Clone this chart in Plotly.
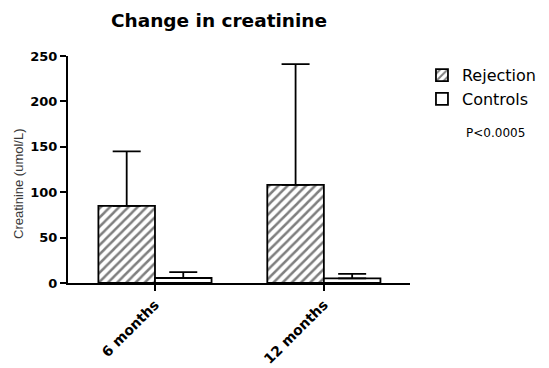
import plotly.graph_objects as go

categories = ["6 months", "12 months"]
rejection = [85, 108]
rejection_err = [60, 133]
controls = [5.5, 5]
controls_err = [6.5, 5]
y_ticks = [0, 50, 100, 150, 200, 250]

fig = go.Figure()
fig.add_trace(go.Bar(
    x=categories, y=rejection, name="Rejection",
    marker=dict(color="white", line=dict(color="black", width=1.8),
                pattern=dict(shape="/", fgcolor="black", bgcolor="white", size=6.5, solidity=0.38)),
    error_y=dict(type="data", array=rejection_err, arrayminus=[0, 0], symmetric=False,
                 color="black", thickness=1.8, width=14),
))
fig.add_trace(go.Bar(
    x=categories, y=controls, name="Controls",
    marker=dict(color="white", line=dict(color="black", width=1.8)),
    error_y=dict(type="data", array=controls_err, arrayminus=[0, 0], symmetric=False,
                 color="black", thickness=1.8, width=14),
))

fig.update_layout(
    width=549, height=368,
    margin=dict(l=68, r=139, t=56, b=85, autoexpand=False),
    paper_bgcolor="white", plot_bgcolor="white",
    barmode="group", bargap=0.33, bargroupgap=0,
    title=dict(text="<b>Change in creatinine</b>", x=219/549, xanchor="center",
               y=1-21/368, yanchor="middle",
               font=dict(family="DejaVu Sans", size=18.5, color="black")),
    showlegend=True,
    legend=dict(x=1.035, y=0.99, xanchor="left", yanchor="top",
                font=dict(family="DejaVu Sans", size=16, color="black"),
                bgcolor="rgba(0,0,0,0)", itemwidth=30, tracegroupgap=4),
    font=dict(family="Arial", color="black"),
)
fig.update_xaxes(
    range=[-0.515, 1.51], showline=True, linecolor="black", linewidth=2,
    ticks="outside", ticklen=6, tickwidth=2, tickcolor="black", automargin=False,
    tickangle=-45, tickfont=dict(family="DejaVu Sans", size=14, color="black", weight="bold"),
    showgrid=False, zeroline=False,
)
fig.update_yaxes(
    range=[0, 250], tickvals=y_ticks, showline=True, linecolor="black", linewidth=2,
    ticks="outside", ticklen=6, tickwidth=2, tickcolor="black", automargin=False,
    tickfont=dict(family="DejaVu Sans", size=13, color="black", weight="bold"),
    showgrid=False, zeroline=False,
)
fig.add_annotation(text="Creatinine (umol/L)", xref="paper", yref="paper",
                   x=(18-68)/342, y=(283-184)/227, xanchor="center", yanchor="middle",
                   textangle=-90, showarrow=False,
                   font=dict(family="Arial", size=13, color="#3a3a3a"))
fig.add_annotation(text="P<0.0005", xref="paper", yref="paper",
                   x=(464-68)/342, y=(283-133)/227, xanchor="left", yanchor="middle",
                   showarrow=False, font=dict(family="DejaVu Sans", size=12, color="black"))

fig.write_html("out.html", config={"displayModeBar": False},
               post_script="document.body.style.margin='0px';")
